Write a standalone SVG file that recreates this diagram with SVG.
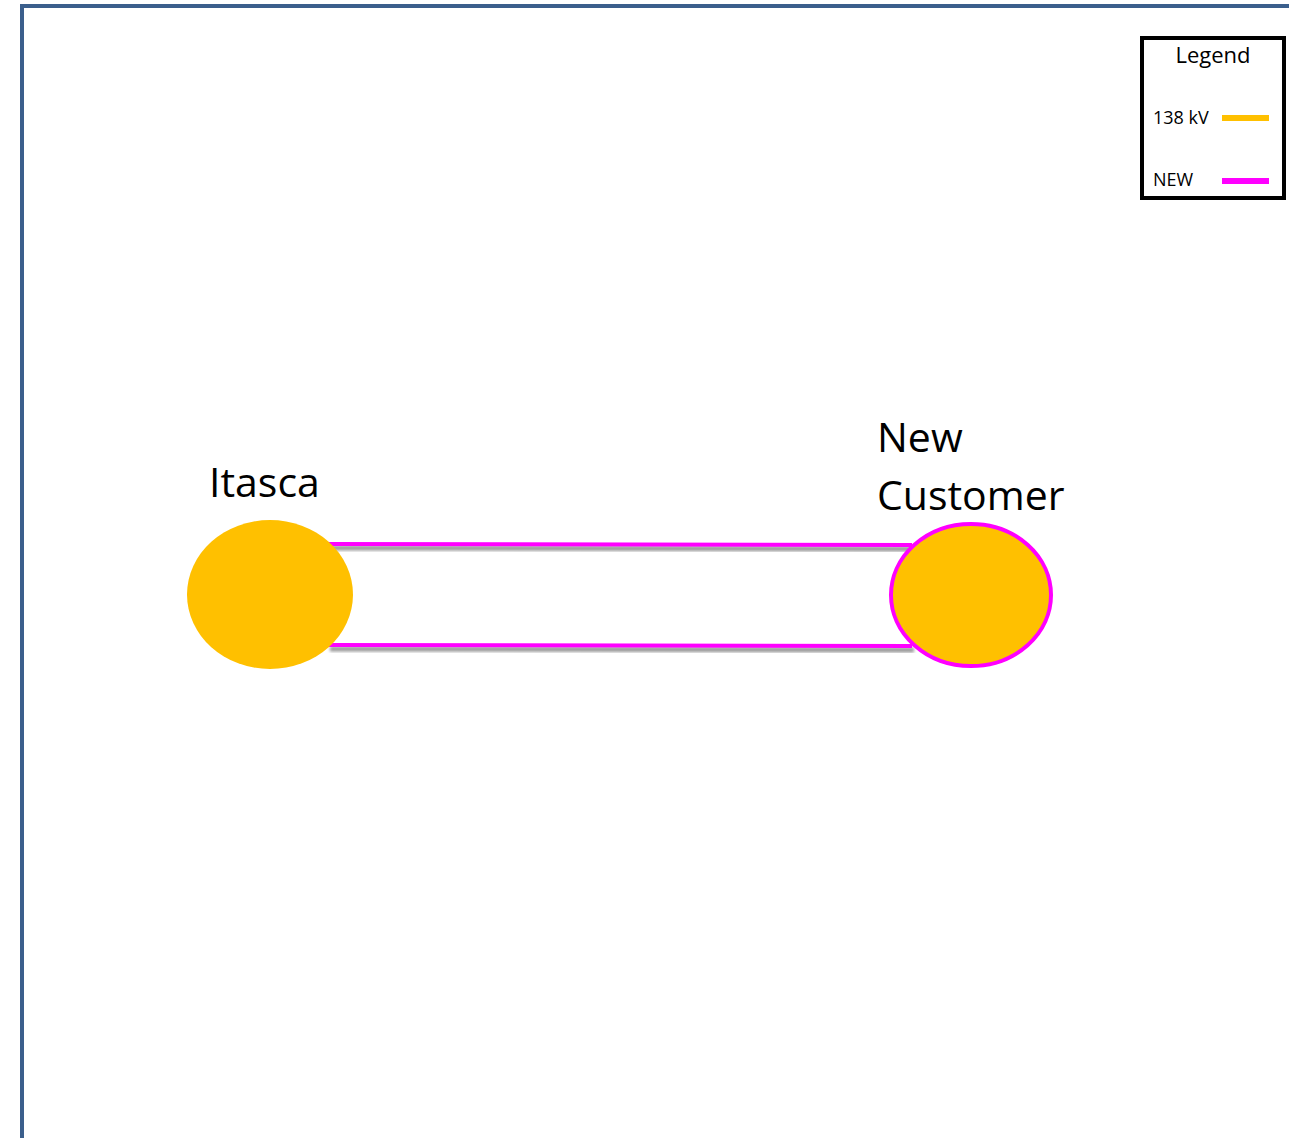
<svg xmlns="http://www.w3.org/2000/svg" width="1289" height="1138" viewBox="0 0 1289 1138">
<style>
.lbl{font-family:"Open Sans","Liberation Sans",sans-serif;fill:#000}
.big{font-size:41px}
.sm{font-size:18px}
.line{stroke:#FF00FF;stroke-width:4;fill:none}
.shadow{stroke:#000;stroke-opacity:0.4;stroke-width:5;fill:none;filter:url(#blur)}
</style>
<defs>
<filter id="blur" x="-5%" y="-300%" width="110%" height="700%"><feGaussianBlur stdDeviation="1.8"/></filter>
</defs>
<rect x="0" y="0" width="1289" height="1138" fill="#fff"/>
<rect id="frame" x="22" y="6" width="1300" height="1200" fill="none" stroke="#3B5F8C" stroke-width="4"/>
<g id="connectors">
<line class="shadow" x1="330" y1="548" x2="914" y2="549"/>
<line class="shadow" x1="330" y1="649" x2="914" y2="650"/>
<line class="line" x1="327" y1="544" x2="912" y2="545"/>
<line class="line" x1="327" y1="645" x2="912" y2="646"/>
</g>
<g id="itasca">
<ellipse cx="270" cy="594.5" rx="83" ry="74.5" fill="#FFC000"/>
<text class="lbl big" x="209" y="497">Itasca</text>
</g>
<g id="new-customer">
<ellipse cx="971" cy="595" rx="80" ry="71" fill="#FFC000" stroke="#FF00FF" stroke-width="4"/>
<text class="lbl big" x="877" y="452">New</text>
<text class="lbl big" x="877" y="510">Customer</text>
</g>
<g id="legend">
<rect x="1142" y="38" width="142" height="160" fill="#fff" stroke="#000" stroke-width="4"/>
<text class="lbl" x="1213" y="63" font-size="22" text-anchor="middle">Legend</text>
<text class="lbl sm" x="1153" y="124">138 kV</text>
<line x1="1222" y1="118" x2="1269" y2="118" stroke="#FFC000" stroke-width="6"/>
<text class="lbl sm" x="1153" y="186">NEW</text>
<line x1="1222" y1="181" x2="1269" y2="181" stroke="#FF00FF" stroke-width="6"/>
</g>
</svg>
